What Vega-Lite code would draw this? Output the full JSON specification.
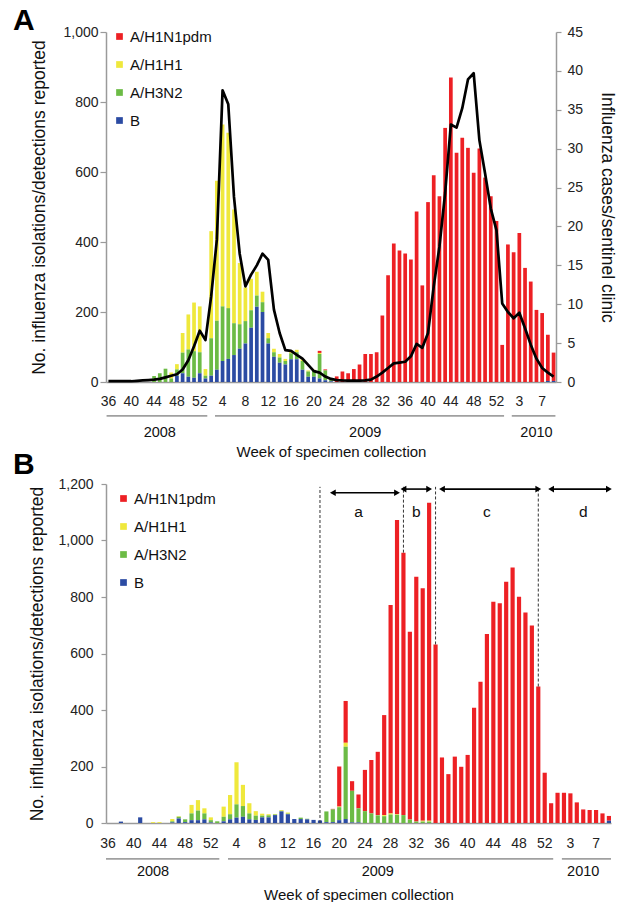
{
  "$schema": "https://vega.github.io/schema/vega-lite/v6.json",
  "padding": {"left": 13, "top": 6, "right": 2, "bottom": 0},
  "bounds": "flush",
  "spacing": 102,
  "config": {
    "font": "Liberation Sans",
    "view": {"stroke": null},
    "axis": {"grid": false, "domainColor": "#9a9a9a", "domainWidth": 1.5, "tickColor": "#9a9a9a", "tickWidth": 1.2, "labelColor": "#222", "titleColor": "#111", "titleFontWeight": "normal", "labelFontSize": 14, "titleFontSize": 17.5},
    "legend": {"labelFontSize": 15, "labelColor": "#111", "symbolType": "square", "symbolSize": 45, "symbolStrokeWidth": 0, "rowPadding": 12, "labelOffset": 3, "orient": "none"},
    "title": {"font": "Liberation Sans"}
  },
  "resolve": {"scale": {"color": "independent", "x": "independent", "y": "independent"}, "legend": {"color": "independent"}},
  "datasets": {
    "types": [
      {"key": "pdm", "type": "A/H1N1pdm", "rank": 4},
      {"key": "h1h1", "type": "A/H1H1", "rank": 3},
      {"key": "h3n2", "type": "A/H3N2", "rank": 2},
      {"key": "b", "type": "B", "rank": 1}
    ],
    "a": [
      {"week": "2008-36", "pdm": 0, "h1h1": 0, "h3n2": 0, "b": 0, "cases": 0.1},
      {"week": "2008-37", "pdm": 0, "h1h1": 0, "h3n2": 0, "b": 0, "cases": 0.1},
      {"week": "2008-38", "pdm": 0, "h1h1": 0, "h3n2": 0, "b": 0, "cases": 0.1},
      {"week": "2008-39", "pdm": 0, "h1h1": 0, "h3n2": 0, "b": 0, "cases": 0.1},
      {"week": "2008-40", "pdm": 0, "h1h1": 0, "h3n2": 0, "b": 0, "cases": 0.1},
      {"week": "2008-41", "pdm": 0, "h1h1": 0, "h3n2": 0, "b": 0, "cases": 0.15},
      {"week": "2008-42", "pdm": 0, "h1h1": 0, "h3n2": 0, "b": 0, "cases": 0.2},
      {"week": "2008-43", "pdm": 0, "h1h1": 0, "h3n2": 0, "b": 0, "cases": 0.25},
      {"week": "2008-44", "pdm": 0, "h1h1": 0, "h3n2": 17, "b": 0, "cases": 0.3},
      {"week": "2008-45", "pdm": 0, "h1h1": 0, "h3n2": 25, "b": 0, "cases": 0.4},
      {"week": "2008-46", "pdm": 0, "h1h1": 0, "h3n2": 38, "b": 0, "cases": 0.6},
      {"week": "2008-47", "pdm": 0, "h1h1": 17, "h3n2": 10, "b": 0, "cases": 0.8},
      {"week": "2008-48", "pdm": 0, "h1h1": 15, "h3n2": 18, "b": 18, "cases": 1.0},
      {"week": "2008-49", "pdm": 0, "h1h1": 56, "h3n2": 59, "b": 25, "cases": 1.6},
      {"week": "2008-50", "pdm": 0, "h1h1": 100, "h3n2": 78, "b": 15, "cases": 2.8},
      {"week": "2008-51", "pdm": 0, "h1h1": 139, "h3n2": 76, "b": 12, "cases": 4.6},
      {"week": "2008-52", "pdm": 0, "h1h1": 131, "h3n2": 60, "b": 25, "cases": 6.6},
      {"week": "2009-01", "pdm": 0, "h1h1": 19, "h3n2": 8, "b": 10, "cases": 5.4},
      {"week": "2009-02", "pdm": 0, "h1h1": 306, "h3n2": 107, "b": 18, "cases": 11.0},
      {"week": "2009-03", "pdm": 0, "h1h1": 400, "h3n2": 140, "b": 35, "cases": 18.3},
      {"week": "2009-04", "pdm": 0, "h1h1": 520, "h3n2": 156, "b": 60, "cases": 37.5},
      {"week": "2009-05", "pdm": 0, "h1h1": 501, "h3n2": 145, "b": 66, "cases": 35.7},
      {"week": "2009-06", "pdm": 0, "h1h1": 325, "h3n2": 91, "b": 77, "cases": 23.8},
      {"week": "2009-07", "pdm": 0, "h1h1": 175, "h3n2": 70, "b": 95, "cases": 16.5},
      {"week": "2009-08", "pdm": 0, "h1h1": 96, "h3n2": 64, "b": 110, "cases": 12.3},
      {"week": "2009-09", "pdm": 0, "h1h1": 90, "h3n2": 50, "b": 155, "cases": 13.8},
      {"week": "2009-10", "pdm": 0, "h1h1": 68, "h3n2": 32, "b": 215, "cases": 15.0},
      {"week": "2009-11", "pdm": 0, "h1h1": 30, "h3n2": 28, "b": 200, "cases": 16.5},
      {"week": "2009-12", "pdm": 0, "h1h1": 15, "h3n2": 15, "b": 110, "cases": 15.7},
      {"week": "2009-13", "pdm": 0, "h1h1": 10, "h3n2": 13, "b": 72, "cases": 9.3},
      {"week": "2009-14", "pdm": 0, "h1h1": 10, "h3n2": 15, "b": 55, "cases": 6.3},
      {"week": "2009-15", "pdm": 0, "h1h1": 6, "h3n2": 10, "b": 50, "cases": 4.1},
      {"week": "2009-16", "pdm": 0, "h1h1": 8, "h3n2": 17, "b": 65, "cases": 4.0},
      {"week": "2009-17", "pdm": 0, "h1h1": 7, "h3n2": 20, "b": 65, "cases": 3.5},
      {"week": "2009-18", "pdm": 0, "h1h1": 5, "h3n2": 25, "b": 35, "cases": 3.0},
      {"week": "2009-19", "pdm": 0, "h1h1": 3, "h3n2": 15, "b": 15, "cases": 2.2},
      {"week": "2009-20", "pdm": 0, "h1h1": 2, "h3n2": 18, "b": 15, "cases": 1.4},
      {"week": "2009-21", "pdm": 6, "h1h1": 3, "h3n2": 70, "b": 10, "cases": 1.2},
      {"week": "2009-22", "pdm": 3, "h1h1": 0, "h3n2": 28, "b": 5, "cases": 0.7},
      {"week": "2009-23", "pdm": 3, "h1h1": 0, "h3n2": 5, "b": 2, "cases": 0.4},
      {"week": "2009-24", "pdm": 16, "h1h1": 0, "h3n2": 0, "b": 0, "cases": 0.25},
      {"week": "2009-25", "pdm": 30, "h1h1": 0, "h3n2": 0, "b": 0, "cases": 0.2},
      {"week": "2009-26", "pdm": 25, "h1h1": 0, "h3n2": 0, "b": 0, "cases": 0.17},
      {"week": "2009-27", "pdm": 37, "h1h1": 0, "h3n2": 0, "b": 0, "cases": 0.17},
      {"week": "2009-28", "pdm": 50, "h1h1": 0, "h3n2": 0, "b": 0, "cases": 0.17},
      {"week": "2009-29", "pdm": 80, "h1h1": 0, "h3n2": 0, "b": 0, "cases": 0.2},
      {"week": "2009-30", "pdm": 80, "h1h1": 0, "h3n2": 0, "b": 0, "cases": 0.3},
      {"week": "2009-31", "pdm": 85, "h1h1": 0, "h3n2": 0, "b": 0, "cases": 0.7},
      {"week": "2009-32", "pdm": 190, "h1h1": 0, "h3n2": 0, "b": 0, "cases": 1.2},
      {"week": "2009-33", "pdm": 305, "h1h1": 0, "h3n2": 0, "b": 0, "cases": 1.8},
      {"week": "2009-34", "pdm": 396, "h1h1": 0, "h3n2": 0, "b": 0, "cases": 2.4},
      {"week": "2009-35", "pdm": 376, "h1h1": 0, "h3n2": 0, "b": 0, "cases": 2.5},
      {"week": "2009-36", "pdm": 367, "h1h1": 0, "h3n2": 0, "b": 0, "cases": 2.6},
      {"week": "2009-37", "pdm": 350, "h1h1": 0, "h3n2": 0, "b": 0, "cases": 3.3},
      {"week": "2009-38", "pdm": 487, "h1h1": 0, "h3n2": 0, "b": 0, "cases": 4.9},
      {"week": "2009-39", "pdm": 276, "h1h1": 0, "h3n2": 0, "b": 0, "cases": 4.4},
      {"week": "2009-40", "pdm": 514, "h1h1": 0, "h3n2": 0, "b": 0, "cases": 6.3},
      {"week": "2009-41", "pdm": 591, "h1h1": 0, "h3n2": 0, "b": 0, "cases": 12.3},
      {"week": "2009-42", "pdm": 531, "h1h1": 0, "h3n2": 0, "b": 0, "cases": 17.4},
      {"week": "2009-43", "pdm": 726, "h1h1": 0, "h3n2": 0, "b": 0, "cases": 24.3},
      {"week": "2009-44", "pdm": 870, "h1h1": 0, "h3n2": 0, "b": 0, "cases": 33.1},
      {"week": "2009-45", "pdm": 655, "h1h1": 0, "h3n2": 0, "b": 0, "cases": 32.7},
      {"week": "2009-46", "pdm": 698, "h1h1": 0, "h3n2": 0, "b": 0, "cases": 35.2},
      {"week": "2009-47", "pdm": 669, "h1h1": 0, "h3n2": 0, "b": 0, "cases": 38.9},
      {"week": "2009-48", "pdm": 598, "h1h1": 0, "h3n2": 0, "b": 0, "cases": 39.7},
      {"week": "2009-49", "pdm": 667, "h1h1": 0, "h3n2": 0, "b": 0, "cases": 31.1},
      {"week": "2009-50", "pdm": 584, "h1h1": 0, "h3n2": 0, "b": 0, "cases": 26.8},
      {"week": "2009-51", "pdm": 531, "h1h1": 0, "h3n2": 0, "b": 0, "cases": 22.3},
      {"week": "2009-52", "pdm": 460, "h1h1": 0, "h3n2": 0, "b": 0, "cases": 19.5},
      {"week": "2009-53", "pdm": 106, "h1h1": 0, "h3n2": 0, "b": 0, "cases": 10.1},
      {"week": "2010-01", "pdm": 393, "h1h1": 0, "h3n2": 0, "b": 0, "cases": 9.0},
      {"week": "2010-02", "pdm": 371, "h1h1": 0, "h3n2": 0, "b": 0, "cases": 8.2},
      {"week": "2010-03", "pdm": 426, "h1h1": 0, "h3n2": 0, "b": 0, "cases": 8.9},
      {"week": "2010-04", "pdm": 326, "h1h1": 0, "h3n2": 0, "b": 0, "cases": 6.9},
      {"week": "2010-05", "pdm": 287, "h1h1": 0, "h3n2": 0, "b": 0, "cases": 4.8},
      {"week": "2010-06", "pdm": 206, "h1h1": 0, "h3n2": 0, "b": 0, "cases": 3.0},
      {"week": "2010-07", "pdm": 197, "h1h1": 0, "h3n2": 0, "b": 0, "cases": 1.8},
      {"week": "2010-08", "pdm": 132, "h1h1": 0, "h3n2": 0, "b": 3, "cases": 1.2},
      {"week": "2010-09", "pdm": 81, "h1h1": 0, "h3n2": 0, "b": 3, "cases": 0.7}
    ],
    "b": [
      {"week": "2008-36", "pdm": 0, "h1h1": 0, "h3n2": 0, "b": 0},
      {"week": "2008-37", "pdm": 0, "h1h1": 0, "h3n2": 0, "b": 0},
      {"week": "2008-38", "pdm": 0, "h1h1": 0, "h3n2": 0, "b": 5},
      {"week": "2008-39", "pdm": 0, "h1h1": 0, "h3n2": 0, "b": 0},
      {"week": "2008-40", "pdm": 0, "h1h1": 0, "h3n2": 0, "b": 0},
      {"week": "2008-41", "pdm": 0, "h1h1": 0, "h3n2": 0, "b": 20},
      {"week": "2008-42", "pdm": 0, "h1h1": 0, "h3n2": 0, "b": 0},
      {"week": "2008-43", "pdm": 0, "h1h1": 3, "h3n2": 0, "b": 0},
      {"week": "2008-44", "pdm": 0, "h1h1": 3, "h3n2": 0, "b": 0},
      {"week": "2008-45", "pdm": 0, "h1h1": 0, "h3n2": 0, "b": 0},
      {"week": "2008-46", "pdm": 0, "h1h1": 8, "h3n2": 4, "b": 2},
      {"week": "2008-47", "pdm": 0, "h1h1": 2, "h3n2": 6, "b": 16},
      {"week": "2008-48", "pdm": 0, "h1h1": 0, "h3n2": 10, "b": 3},
      {"week": "2008-49", "pdm": 0, "h1h1": 30, "h3n2": 24, "b": 10},
      {"week": "2008-50", "pdm": 0, "h1h1": 37, "h3n2": 34, "b": 10},
      {"week": "2008-51", "pdm": 0, "h1h1": 18, "h3n2": 21, "b": 13},
      {"week": "2008-52", "pdm": 0, "h1h1": 10, "h3n2": 8, "b": 2},
      {"week": "2009-01", "pdm": 0, "h1h1": 0, "h3n2": 6, "b": 0},
      {"week": "2009-02", "pdm": 0, "h1h1": 36, "h3n2": 16, "b": 6},
      {"week": "2009-03", "pdm": 0, "h1h1": 68, "h3n2": 18, "b": 13},
      {"week": "2009-04", "pdm": 0, "h1h1": 149, "h3n2": 47, "b": 19},
      {"week": "2009-05", "pdm": 0, "h1h1": 75, "h3n2": 38, "b": 22},
      {"week": "2009-06", "pdm": 0, "h1h1": 36, "h3n2": 21, "b": 13},
      {"week": "2009-07", "pdm": 0, "h1h1": 16, "h3n2": 15, "b": 11},
      {"week": "2009-08", "pdm": 0, "h1h1": 7, "h3n2": 6, "b": 20},
      {"week": "2009-09", "pdm": 0, "h1h1": 4, "h3n2": 7, "b": 20},
      {"week": "2009-10", "pdm": 0, "h1h1": 2, "h3n2": 2, "b": 28},
      {"week": "2009-11", "pdm": 0, "h1h1": 3, "h3n2": 2, "b": 41},
      {"week": "2009-12", "pdm": 0, "h1h1": 4, "h3n2": 2, "b": 31},
      {"week": "2009-13", "pdm": 0, "h1h1": 0, "h3n2": 0, "b": 14},
      {"week": "2009-14", "pdm": 0, "h1h1": 0, "h3n2": 5, "b": 14},
      {"week": "2009-15", "pdm": 0, "h1h1": 0, "h3n2": 2, "b": 13},
      {"week": "2009-16", "pdm": 0, "h1h1": 0, "h3n2": 0, "b": 11},
      {"week": "2009-17", "pdm": 0, "h1h1": 0, "h3n2": 0, "b": 9},
      {"week": "2009-18", "pdm": 0, "h1h1": 0, "h3n2": 38, "b": 3},
      {"week": "2009-19", "pdm": 2, "h1h1": 0, "h3n2": 45, "b": 3},
      {"week": "2009-20", "pdm": 142, "h1h1": 2, "h3n2": 46, "b": 10},
      {"week": "2009-21", "pdm": 148, "h1h1": 14, "h3n2": 256, "b": 14},
      {"week": "2009-22", "pdm": 34, "h1h1": 0, "h3n2": 112, "b": 2},
      {"week": "2009-23", "pdm": 49, "h1h1": 0, "h3n2": 50, "b": 2},
      {"week": "2009-24", "pdm": 146, "h1h1": 0, "h3n2": 42, "b": 0},
      {"week": "2009-25", "pdm": 189, "h1h1": 0, "h3n2": 34, "b": 0},
      {"week": "2009-26", "pdm": 224, "h1h1": 1, "h3n2": 27, "b": 0},
      {"week": "2009-27", "pdm": 354, "h1h1": 4, "h3n2": 24, "b": 0},
      {"week": "2009-28", "pdm": 738, "h1h1": 4, "h3n2": 30, "b": 0},
      {"week": "2009-29", "pdm": 1042, "h1h1": 2, "h3n2": 29, "b": 0},
      {"week": "2009-30", "pdm": 929, "h1h1": 0, "h3n2": 28, "b": 0},
      {"week": "2009-31", "pdm": 665, "h1h1": 0, "h3n2": 12, "b": 0},
      {"week": "2009-32", "pdm": 867, "h1h1": 0, "h3n2": 5, "b": 0},
      {"week": "2009-33", "pdm": 823, "h1h1": 3, "h3n2": 5, "b": 0},
      {"week": "2009-34", "pdm": 1126, "h1h1": 3, "h3n2": 5, "b": 0},
      {"week": "2009-35", "pdm": 632, "h1h1": 0, "h3n2": 0, "b": 0},
      {"week": "2009-36", "pdm": 232, "h1h1": 0, "h3n2": 0, "b": 0},
      {"week": "2009-37", "pdm": 173, "h1h1": 0, "h3n2": 0, "b": 0},
      {"week": "2009-38", "pdm": 235, "h1h1": 0, "h3n2": 0, "b": 0},
      {"week": "2009-39", "pdm": 199, "h1h1": 0, "h3n2": 0, "b": 0},
      {"week": "2009-40", "pdm": 241, "h1h1": 0, "h3n2": 0, "b": 0},
      {"week": "2009-41", "pdm": 408, "h1h1": 0, "h3n2": 0, "b": 0},
      {"week": "2009-42", "pdm": 500, "h1h1": 0, "h3n2": 0, "b": 0},
      {"week": "2009-43", "pdm": 669, "h1h1": 0, "h3n2": 0, "b": 0},
      {"week": "2009-44", "pdm": 783, "h1h1": 0, "h3n2": 0, "b": 0},
      {"week": "2009-45", "pdm": 778, "h1h1": 0, "h3n2": 0, "b": 0},
      {"week": "2009-46", "pdm": 854, "h1h1": 0, "h3n2": 0, "b": 0},
      {"week": "2009-47", "pdm": 904, "h1h1": 0, "h3n2": 0, "b": 0},
      {"week": "2009-48", "pdm": 801, "h1h1": 0, "h3n2": 0, "b": 0},
      {"week": "2009-49", "pdm": 745, "h1h1": 0, "h3n2": 0, "b": 0},
      {"week": "2009-50", "pdm": 699, "h1h1": 0, "h3n2": 0, "b": 0},
      {"week": "2009-51", "pdm": 483, "h1h1": 0, "h3n2": 0, "b": 0},
      {"week": "2009-52", "pdm": 178, "h1h1": 0, "h3n2": 0, "b": 0},
      {"week": "2009-53", "pdm": 70, "h1h1": 0, "h3n2": 0, "b": 0},
      {"week": "2010-01", "pdm": 107, "h1h1": 0, "h3n2": 0, "b": 0},
      {"week": "2010-02", "pdm": 107, "h1h1": 0, "h3n2": 0, "b": 0},
      {"week": "2010-03", "pdm": 105, "h1h1": 0, "h3n2": 0, "b": 0},
      {"week": "2010-04", "pdm": 73, "h1h1": 0, "h3n2": 0, "b": 0},
      {"week": "2010-05", "pdm": 48, "h1h1": 0, "h3n2": 0, "b": 0},
      {"week": "2010-06", "pdm": 46, "h1h1": 0, "h3n2": 0, "b": 0},
      {"week": "2010-07", "pdm": 46, "h1h1": 0, "h3n2": 0, "b": 0},
      {"week": "2010-08", "pdm": 34, "h1h1": 0, "h3n2": 0, "b": 0},
      {"week": "2010-09", "pdm": 17, "h1h1": 0, "h3n2": 0, "b": 8}
    ],
    "yearsA": [
      {"year": "2008", "from": "2008-36", "to": "2009-01", "mid": "2008-45"},
      {"year": "2009", "from": "2009-03", "to": "2009-53", "mid": "2009-29"},
      {"year": "2010", "from": "2010-02", "to": "2010-09", "mid": "2010-06"}
    ],
    "yearsB": [
      {"year": "2008", "from": "2008-36", "to": "2009-01", "mid": "2008-43"},
      {"year": "2009", "from": "2009-03", "to": "2009-53", "mid": "2009-26"},
      {"year": "2010", "from": "2010-02", "to": "2010-09", "mid": "2010-05"}
    ],
    "cutoffs": [
      {"week": "2009-17", "top": 0},
      {"week": "2009-30", "top": 957},
      {"week": "2009-35", "top": 632},
      {"week": "2009-51", "top": 483}
    ],
    "periods": [
      {"label": "a", "from": "2009-19", "to": "2009-29", "level": 1169, "mid": "2009-23"},
      {"label": "b", "from": "2009-30", "to": "2009-34", "level": 1182, "mid": "2009-32"},
      {"label": "c", "from": "2009-36", "to": "2009-51", "level": 1182, "mid": "2009-43"},
      {"label": "d", "from": "2009-53", "to": "2010-09", "level": 1182, "mid": "2010-05"}
    ]
  },
  "vconcat": [
    {
      "width": 450,
      "height": 350,
      "title": {"text": "A", "anchor": "start", "frame": "group", "dx": -93, "dy": 8, "offset": -27, "fontSize": 30, "fontWeight": "bold", "color": "#000", "baseline": "alphabetic"},
      "resolve": {"scale": {"y": "independent"}},
      "layer": [
        {
          "layer": [
            {
              "data": {"name": "a"},
              "transform": [
                {"fold": ["pdm", "h1h1", "h3n2", "b"], "as": ["key", "n"]},
                {"lookup": "key", "from": {"data": {"name": "types"}, "key": "key", "fields": ["type", "rank"]}}
              ],
              "mark": {"type": "bar"},
              "encoding": {
                "x": {"field": "week", "type": "ordinal", "title": "Week of specimen collection",
                      "scale": {"paddingInner": 0.35, "paddingOuter": 0.1},
                      "axis": {"values": ["2008-36","2008-40","2008-44","2008-48","2008-52","2009-04","2009-08","2009-12","2009-16","2009-20","2009-24","2009-28","2009-32","2009-36","2009-40","2009-44","2009-48","2009-52","2010-03","2010-07"],
                               "labelExpr": "'' + toNumber(slice(datum.value, 5))", "labelAngle": 0, "ticks": false, "labelPadding": 12, "titlePadding": 36, "titleFontSize": 15}},
                "y": {"field": "n", "type": "quantitative", "stack": "zero", "title": "No. influenza isolations/detections reported",
                      "scale": {"domain": [0, 1000]},
                      "axis": {"values": [0,100,200,300,400,500,600,700,800,900,1000], "tickSize": 6, "labelPadding": 2, "titlePadding": 14}},
                "color": {"field": "type", "type": "nominal",
                          "scale": {"domain": ["A/H1N1pdm", "A/H1H1", "A/H3N2", "B"], "range": ["#ed2024", "#efe83c", "#6cbb45", "#2b4ba3"]},
                          "legend": {"title": null, "orient": "none", "legendX": 6, "legendY": -3}},
                "order": {"field": "rank", "type": "quantitative"}
              }
            },
            {
              "data": {"name": "yearsA"},
              "mark": {"type": "rule", "color": "#a0a0a0", "strokeWidth": 1.8},
              "encoding": {
                "x": {"field": "from", "type": "ordinal", "bandPosition": 0, "title": "Week of specimen collection"},
                "x2": {"field": "to", "bandPosition": 1},
                "y": {"datum": -97, "type": "quantitative", "scale": {"domain": [0, 1000]}, "title": "No. influenza isolations/detections reported"}
              }
            },
            {
              "data": {"name": "yearsA"},
              "mark": {"type": "text", "fontSize": 14.5, "color": "#111", "baseline": "middle", "align": "center"},
              "encoding": {
                "x": {"field": "mid", "type": "ordinal", "title": "Week of specimen collection"},
                "y": {"datum": -146, "type": "quantitative", "scale": {"domain": [0, 1000]}, "title": "No. influenza isolations/detections reported"},
                "text": {"field": "year"}
              }
            }
          ]
        },
        {
          "data": {"name": "a"},
          "mark": {"type": "line", "color": "#000", "strokeWidth": 2.7, "strokeJoin": "round"},
          "encoding": {
            "x": {"field": "week", "type": "ordinal", "title": "Week of specimen collection"},
            "y": {"field": "cases", "type": "quantitative", "title": "Influenza cases/sentinel clinic",
                  "scale": {"domain": [0, 45]},
                  "axis": {"orient": "right", "values": [0,5,10,15,20,25,30,35,40,45], "tickSize": 5, "labelPadding": 6, "titlePadding": 15}}
          }
        }
      ]
    },
    {
      "width": 505,
      "height": 339,
      "title": {"text": "B", "anchor": "start", "frame": "group", "dx": -93, "dy": 8, "offset": -19, "fontSize": 30, "fontWeight": "bold", "color": "#000", "baseline": "alphabetic"},
      "layer": [
        {
          "data": {"name": "b"},
          "transform": [
            {"fold": ["pdm", "h1h1", "h3n2", "b"], "as": ["key", "n"]},
            {"lookup": "key", "from": {"data": {"name": "types"}, "key": "key", "fields": ["type", "rank"]}}
          ],
          "mark": {"type": "bar"},
          "encoding": {
            "x": {"field": "week", "type": "ordinal", "title": "Week of specimen collection",
                  "scale": {"paddingInner": 0.35, "paddingOuter": 0},
                  "axis": {"values": ["2008-36","2008-40","2008-44","2008-48","2008-52","2009-04","2009-08","2009-12","2009-16","2009-20","2009-24","2009-28","2009-32","2009-36","2009-40","2009-44","2009-48","2009-52","2010-03","2010-07"],
                           "labelExpr": "'' + toNumber(slice(datum.value, 5))", "labelAngle": 0, "ticks": false, "labelPadding": 13, "titlePadding": 37, "titleFontSize": 15}},
            "y": {"field": "n", "type": "quantitative", "stack": "zero", "title": "No. influenza isolations/detections reported",
                  "scale": {"domain": [0, 1200]},
                  "axis": {"values": [0,200,400,600,800,1000,1200], "tickSize": 5, "labelPadding": 8, "titlePadding": 11}},
            "color": {"field": "type", "type": "nominal",
                      "scale": {"domain": ["A/H1N1pdm", "A/H1H1", "A/H3N2", "B"], "range": ["#ed2024", "#efe83c", "#6cbb45", "#2b4ba3"]},
                      "legend": {"title": null, "orient": "none", "legendX": 10, "legendY": 7}},
            "order": {"field": "rank", "type": "quantitative"}
          }
        },
        {
          "data": {"name": "yearsB"},
          "mark": {"type": "rule", "color": "#a0a0a0", "strokeWidth": 1.8},
          "encoding": {
            "x": {"field": "from", "type": "ordinal", "bandPosition": 0, "title": "Week of specimen collection"},
            "x2": {"field": "to", "bandPosition": 1},
            "y": {"datum": -127, "type": "quantitative", "scale": {"domain": [0, 1200]}, "title": "No. influenza isolations/detections reported"}
          }
        },
        {
          "data": {"name": "yearsB"},
          "mark": {"type": "text", "fontSize": 14.5, "color": "#111", "baseline": "middle", "align": "center"},
          "encoding": {
            "x": {"field": "mid", "type": "ordinal", "title": "Week of specimen collection"},
            "y": {"datum": -173, "type": "quantitative", "scale": {"domain": [0, 1200]}, "title": "No. influenza isolations/detections reported"},
            "text": {"field": "year"}
          }
        },
        {
          "data": {"name": "cutoffs"},
          "mark": {"type": "rule", "color": "#333", "strokeWidth": 1, "strokeDash": [3, 2]},
          "encoding": {
            "x": {"field": "week", "type": "ordinal", "title": "Week of specimen collection"},
            "y": {"field": "top", "type": "quantitative", "scale": {"domain": [0, 1200]}, "title": "No. influenza isolations/detections reported"},
            "y2": {"datum": 1190}
          }
        },
        {
          "data": {"name": "periods"},
          "mark": {"type": "rule", "color": "#000", "strokeWidth": 1.6},
          "encoding": {
            "x": {"field": "from", "type": "ordinal", "title": "Week of specimen collection"},
            "x2": {"field": "to"},
            "y": {"field": "level", "type": "quantitative", "scale": {"domain": [0, 1200]}, "title": "No. influenza isolations/detections reported"}
          }
        },
        {
          "data": {"name": "periods"},
          "mark": {"type": "point", "shape": "triangle-left", "filled": true, "color": "#000", "size": 45, "opacity": 1},
          "encoding": {
            "x": {"field": "from", "type": "ordinal", "title": "Week of specimen collection"},
            "y": {"field": "level", "type": "quantitative", "scale": {"domain": [0, 1200]}, "title": "No. influenza isolations/detections reported"}
          }
        },
        {
          "data": {"name": "periods"},
          "mark": {"type": "point", "shape": "triangle-right", "filled": true, "color": "#000", "size": 45, "opacity": 1},
          "encoding": {
            "x": {"field": "to", "type": "ordinal", "title": "Week of specimen collection"},
            "y": {"field": "level", "type": "quantitative", "scale": {"domain": [0, 1200]}, "title": "No. influenza isolations/detections reported"}
          }
        },
        {
          "data": {"name": "periods"},
          "mark": {"type": "text", "fontSize": 15.5, "color": "#111", "baseline": "middle", "align": "center"},
          "encoding": {
            "x": {"field": "mid", "type": "ordinal", "title": "Week of specimen collection"},
            "y": {"datum": 1100, "type": "quantitative", "scale": {"domain": [0, 1200]}, "title": "No. influenza isolations/detections reported"},
            "text": {"field": "label"}
          }
        }
      ]
    }
  ]
}
